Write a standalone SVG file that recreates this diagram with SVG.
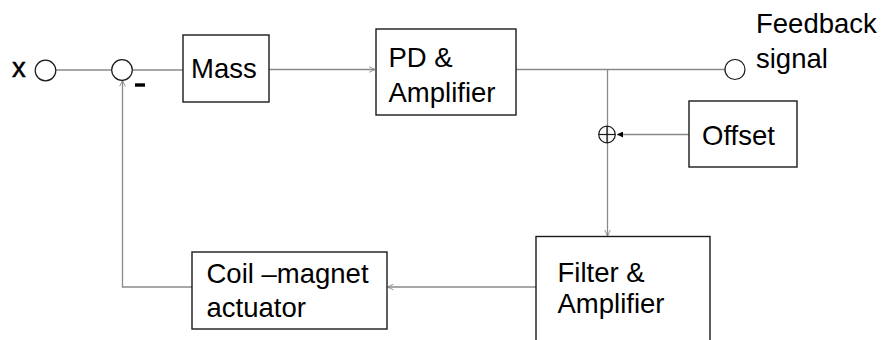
<svg xmlns="http://www.w3.org/2000/svg" width="881" height="340" viewBox="0 0 881 340">
  <defs>
    <style>
      .box { fill: #ffffff; stroke: #1a1a1a; stroke-width: 1.4; }
      .wire { fill: none; stroke: #8a8a8a; stroke-width: 1.3; }
      .port { fill: #ffffff; stroke: #1a1a1a; stroke-width: 1.2; }
      .lbl { font-family: "Liberation Sans", Arial, sans-serif; font-size: 27.5px; fill: #000000; }
    </style>
    <marker id="open" viewBox="0 0 10 10" refX="9.5" refY="5" markerWidth="7" markerHeight="7" markerUnits="userSpaceOnUse" orient="auto">
      <path d="M1,1 L9.5,5 L1,9" fill="none" stroke="#8a8a8a" stroke-width="1.3"/>
    </marker>
    <marker id="solid" viewBox="0 0 10 10" refX="10" refY="5" markerWidth="6" markerHeight="6" markerUnits="userSpaceOnUse" orient="auto">
      <path d="M0,0 L10,5 L0,10 Z" fill="#000000"/>
    </marker>
  </defs>
  <rect width="881" height="340" fill="#ffffff"/>

  <!-- connectors -->
  <g id="connectors">
    <line class="wire" x1="56" y1="70" x2="111.5" y2="70"/>
    <line class="wire" x1="132.5" y1="70" x2="183" y2="70"/>
    <line class="wire" x1="269" y1="69.5" x2="375" y2="69.5" marker-end="url(#open)"/>
    <line class="wire" x1="516" y1="69.5" x2="725" y2="69.5"/>
    <line class="wire" x1="607.5" y1="69.5" x2="607.5" y2="236" marker-end="url(#open)"/>
    <line class="wire" x1="689" y1="134.5" x2="617" y2="134.5" marker-end="url(#solid)"/>
    <line class="wire" x1="536" y1="287" x2="387.5" y2="287" marker-end="url(#open)"/>
    <polyline class="wire" points="192,287 122.5,287 122.5,80.5" marker-end="url(#open)"/>
  </g>

  <!-- input terminal -->
  <g id="input">
    <text class="lbl" x="12" y="77" font-size="25" stroke="#000000" stroke-width="0.5">x</text>
    <circle class="port" cx="45.5" cy="70.5" r="10.3"/>
  </g>

  <!-- summing junction with negative feedback -->
  <g id="sum">
    <circle class="port" cx="122" cy="70" r="10.3"/>
    <rect x="135" y="83.3" width="10" height="3.4" fill="#000000"/>
  </g>

  <g id="mass">
    <rect class="box" x="183" y="35" width="86" height="67"/>
    <text class="lbl" x="191" y="78">Mass</text>
  </g>

  <g id="pd-amp">
    <rect class="box" x="376" y="29" width="140" height="86"/>
    <text class="lbl" x="388.5" y="67">PD &amp;</text>
    <text class="lbl" x="388.5" y="102">Amplifier</text>
  </g>

  <g id="feedback">
    <circle class="port" cx="735" cy="69.5" r="10"/>
    <text class="lbl" x="756" y="33">Feedback</text>
    <text class="lbl" x="756" y="68">signal</text>
  </g>

  <!-- offset adder -->
  <g id="adder">
    <circle cx="607" cy="134.5" r="8.3" fill="none" stroke="#1a1a1a" stroke-width="1.2"/>
    <line x1="598.7" y1="134.5" x2="615.3" y2="134.5" stroke="#1a1a1a" stroke-width="1.2"/>
    <line x1="607" y1="126.2" x2="607" y2="142.8" stroke="#1a1a1a" stroke-width="1.2"/>
  </g>

  <g id="offset">
    <rect class="box" x="689" y="101" width="108" height="66"/>
    <text class="lbl" x="702" y="145">Offset</text>
  </g>

  <g id="filter-amp">
    <rect class="box" x="536" y="236.5" width="174" height="120"/>
    <text class="lbl" x="557.5" y="282">Filter &amp;</text>
    <text class="lbl" x="557.5" y="313">Amplifier</text>
  </g>

  <g id="actuator">
    <rect class="box" x="192" y="252" width="195" height="77"/>
    <text class="lbl" x="206.5" y="283">Coil –magnet</text>
    <text class="lbl" x="206.5" y="317">actuator</text>
  </g>
</svg>
